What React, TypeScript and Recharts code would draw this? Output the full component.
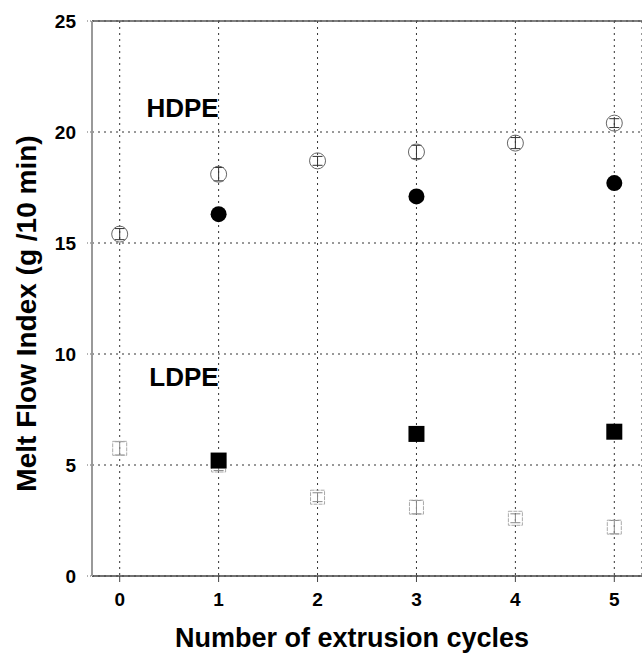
import {
  ScatterChart,
  Scatter,
  XAxis,
  YAxis,
  CartesianGrid,
  ErrorBar,
  ReferenceLine,
  ReferenceDot,
} from 'recharts';

const cycles = [0, 1, 2, 3, 4, 5];
const yTicks = [0, 5, 10, 15, 20, 25];

// HDPE open circles (with error bars) and filled circles
const hdpeOpen = [15.4, 18.1, 18.7, 19.1, 19.5, 20.4];
const hdpeOpenErr = [0.25, 0.3, 0.2, 0.3, 0.25, 0.2];
const filledCycles = [1, 3, 5];
const hdpeFilled = [16.3, 17.1, 17.7];

// LDPE open squares (with error bars) and filled squares
const ldpeOpen = [5.75, 5.0, 3.55, 3.1, 2.6, 2.2];
const ldpeOpenErr = [0.3, 0.25, 0.2, 0.3, 0.2, 0.3];
const ldpeFilled = [5.2, 6.4, 6.5];

const FONT = '"Liberation Sans", Arial, sans-serif';

const hdpeOpenData = cycles.map((c, i) => ({ x: c, y: hdpeOpen[i], err: hdpeOpenErr[i] }));
const hdpeFilledData = filledCycles.map((c, i) => ({ x: c, y: hdpeFilled[i] }));
const ldpeOpenData = cycles.map((c, i) => ({ x: c, y: ldpeOpen[i], err: ldpeOpenErr[i] }));
const ldpeFilledData = filledCycles.map((c, i) => ({ x: c, y: ldpeFilled[i] }));

const OpenCircle = (p: any) => (
  <circle cx={p.cx} cy={p.cy} r={8} fill="none" stroke="#666" strokeWidth={1} />
);
const FilledCircle = (p: any) => <circle cx={p.cx} cy={p.cy} r={8} fill="#000" />;
const OpenSquare = (p: any) => (
  <rect x={p.cx - 7} y={p.cy - 7} width={14} height={14} fill="none" stroke="#aaa" strokeWidth={1} strokeDasharray="4 1" />
);
const FilledSquare = (p: any) => <rect x={p.cx - 8} y={p.cy - 8} width={16} height={16} fill="#000" />;

const tickStyle = { fontFamily: FONT, fontSize: 19, fontWeight: 700, fill: '#000' };

const textLabel = (value: string) => (props: any) => {
  const vb = props.viewBox;
  return (
    <text x={vb.x} y={vb.y} fontFamily={FONT} fontSize={26} fontWeight={700} fill="#000">
      {value}
    </text>
  );
};

export default function App() {
  return (
    <div style={{ position: 'absolute', left: 0, top: 0, background: '#fff' }}>
      <ScatterChart width={642} height={653} margin={{ top: 21, right: 0, bottom: 0, left: 0 }}>
        <CartesianGrid stroke="#333" strokeDasharray="2 4" />
        <XAxis
          type="number"
          dataKey="x"
          domain={[-0.28, 5.28]}
          ticks={cycles}
          allowDataOverflow
          height={77}
          tickSize={6}
          tickMargin={11}
          tick={tickStyle}
          axisLine={{ stroke: '#444', strokeWidth: 1.5 }}
          tickLine={{ stroke: '#444' }}
          label={(props: any) => {
            const vb = props.viewBox;
            return (
              <text x={vb.x + vb.width / 2 - 15} y={vb.y + 71} textAnchor="middle" fontFamily={FONT} fontSize={27} fontWeight={700} fill="#000">
                Number of extrusion cycles
              </text>
            );
          }}
        />
        <YAxis
          type="number"
          dataKey="y"
          domain={[0, 25]}
          ticks={yTicks}
          width={92}
          tickSize={5}
          tickMargin={11}
          tick={tickStyle}
          axisLine={{ stroke: '#999', strokeWidth: 2 }}
          tickLine={{ stroke: '#666', strokeDasharray: '1 2' }}
          label={(props: any) => {
            const vb = props.viewBox;
            const cx = vb.x + 36;
            const cy = vb.y + vb.height / 2 + 15;
            return (
              <text x={cx} y={cy} textAnchor="middle" transform={`rotate(-90 ${cx} ${cy})`} fontFamily={FONT} fontSize={28} fontWeight={700} fill="#000">
                Melt Flow Index (g /10 min)
              </text>
            );
          }}
        />
        <ReferenceLine y={25} stroke="#555" strokeWidth={1.5} />
        <Scatter data={ldpeOpenData} shape={OpenSquare} isAnimationActive={false}>
          <ErrorBar dataKey="err" direction="y" width={5} stroke="#888" strokeWidth={1} />
        </Scatter>
        <Scatter data={hdpeOpenData} shape={OpenCircle} isAnimationActive={false}>
          <ErrorBar dataKey="err" direction="y" width={5} stroke="#333" strokeWidth={1} />
        </Scatter>
        <Scatter data={hdpeFilledData} shape={FilledCircle} isAnimationActive={false} />
        <Scatter data={ldpeFilledData} shape={FilledSquare} isAnimationActive={false} />
        <ReferenceDot x={0.27} y={20.66} r={0} fill="none" stroke="none" label={textLabel('HDPE')} />
        <ReferenceDot x={0.3} y={8.54} r={0} fill="none" stroke="none" label={textLabel('LDPE')} />
      </ScatterChart>
    </div>
  );
}
